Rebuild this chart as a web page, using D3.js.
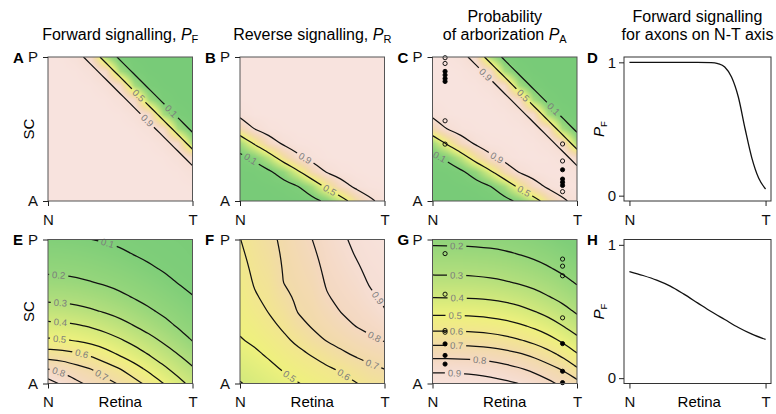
<!DOCTYPE html>
<html>
<head>
<meta charset="utf-8">
<title>forward / reverse signalling</title>
<style>
html, body { margin:0; padding:0; background:#fff; }
svg { display:block; font-family: "Liberation Sans", Arial, Helvetica, sans-serif; }
</style>
</head>
<body>
<svg id="fig" width="776" height="414"></svg>
<script src="https://cdn.jsdelivr.net/npm/d3@7"></script>
<script>

// ---- values ---------------------------------------------------------------
// grids: rows go from P (top) down to A (bottom), columns from N to T, step 0.1

var forwardSteep = [
  [1,0.99,0.95,0.84,0.27,0.05,0.01,0,0,0,0],
  [1,1,0.99,0.95,0.84,0.27,0.05,0.01,0,0,0],
  [1,1,1,0.99,0.95,0.84,0.27,0.05,0.01,0,0],
  [1,1,1,1,0.99,0.95,0.84,0.27,0.05,0.01,0],
  [1,1,1,1,1,0.99,0.95,0.84,0.27,0.05,0.01],
  [1,1,1,1,1,1,0.99,0.95,0.84,0.27,0.05],
  [1,1,1,1,1,1,1,0.99,0.95,0.84,0.27],
  [1,1,1,1,1,1,1,1,0.99,0.95,0.84],
  [1,1,1,1,1,1,1,1,1,0.99,0.95],
  [1,1,1,1,1,1,1,1,1,1,0.99],
  [1,1,1,1,1,1,1,1,1,1,1]
];

var reverseSteep = [
  [1,1,1,1,1,1,1,1,1,1,1],
  [1,1,1,1,1,1,1,1,1,1,1],
  [1,1,1,1,1,1,1,1,1,1,1],
  [0.99,1,1,1,1,1,1,1,1,1,1],
  [0.95,0.99,1,1,1,1,1,1,1,1,1],
  [0.72,0.90,0.97,0.99,1,1,1,1,1,1,1],
  [0.24,0.53,0.80,0.93,0.98,0.99,1,1,1,1,1],
  [0.04,0.13,0.34,0.64,0.86,0.96,0.99,1,1,1,1],
  [0.01,0.02,0.06,0.19,0.44,0.74,0.91,0.97,0.99,1,1],
  [0,0,0.01,0.03,0.09,0.26,0.56,0.81,0.94,0.98,0.99],
  [0,0,0,0,0.01,0.04,0.14,0.36,0.66,0.87,0.96]
];

var arborSteep = [
  [1,0.99,0.95,0.84,0.27,0.05,0.01,0,0,0,0],
  [1,1,0.99,0.95,0.84,0.27,0.05,0.01,0,0,0],
  [1,1,1,0.99,0.95,0.84,0.27,0.05,0.01,0,0],
  [0.99,1,1,1,0.99,0.95,0.84,0.27,0.05,0.01,0],
  [0.95,0.99,1,1,1,0.99,0.95,0.84,0.27,0.05,0.01],
  [0.72,0.90,0.97,0.99,1,1,0.99,0.95,0.84,0.27,0.05],
  [0.24,0.53,0.80,0.93,0.98,0.99,1,0.99,0.95,0.84,0.27],
  [0.04,0.13,0.34,0.64,0.86,0.96,0.99,1,0.99,0.95,0.84],
  [0.01,0.02,0.06,0.19,0.44,0.74,0.91,0.97,0.99,0.99,0.95],
  [0,0,0.01,0.03,0.09,0.26,0.56,0.81,0.94,0.98,0.98],
  [0,0,0,0,0.01,0.04,0.14,0.36,0.66,0.87,0.96]
];

var forwardGraded = [
  [0.114,0.112,0.108,0.100,0.094,0.087,0.078,0.067,0.055,0.048,0.040],
  [0.148,0.146,0.142,0.134,0.124,0.111,0.097,0.086,0.074,0.060,0.047],
  [0.182,0.180,0.176,0.168,0.157,0.144,0.128,0.109,0.093,0.079,0.063],
  [0.224,0.221,0.215,0.203,0.191,0.177,0.161,0.142,0.121,0.098,0.083],
  [0.276,0.274,0.267,0.255,0.239,0.217,0.194,0.175,0.153,0.129,0.103],
  [0.344,0.340,0.329,0.312,0.292,0.271,0.244,0.212,0.185,0.161,0.134],
  [0.425,0.421,0.409,0.390,0.365,0.334,0.299,0.267,0.230,0.192,0.165],
  [0.514,0.507,0.493,0.472,0.445,0.409,0.370,0.328,0.286,0.244,0.197],
  [0.652,0.644,0.620,0.586,0.540,0.491,0.448,0.398,0.350,0.302,0.253],
  [0.800,0.776,0.733,0.700,0.650,0.602,0.538,0.478,0.420,0.365,0.312],
  [0.950,0.880,0.820,0.774,0.733,0.688,0.633,0.571,0.500,0.433,0.370]
];

var reverseGraded = [
  [0.598,0.638,0.677,0.717,0.758,0.800,0.842,0.883,0.920,0.950,0.970],
  [0.585,0.628,0.662,0.711,0.747,0.785,0.831,0.867,0.905,0.936,0.956],
  [0.571,0.617,0.648,0.705,0.736,0.769,0.820,0.851,0.886,0.922,0.941],
  [0.556,0.607,0.633,0.700,0.726,0.754,0.809,0.835,0.865,0.908,0.927],
  [0.541,0.592,0.619,0.673,0.715,0.738,0.794,0.819,0.844,0.886,0.913],
  [0.527,0.566,0.604,0.644,0.704,0.723,0.764,0.803,0.823,0.854,0.896],
  [0.512,0.539,0.577,0.614,0.670,0.708,0.735,0.769,0.802,0.822,0.850],
  [0.495,0.513,0.544,0.581,0.620,0.669,0.705,0.729,0.758,0.785,0.805],
  [0.461,0.484,0.511,0.544,0.576,0.606,0.644,0.682,0.710,0.732,0.753],
  [0.427,0.452,0.478,0.507,0.536,0.562,0.586,0.611,0.647,0.681,0.700],
  [0.395,0.420,0.445,0.470,0.496,0.520,0.545,0.570,0.595,0.630,0.650]
];

var arborGraded = [
  [0.181,0.180,0.180,0.178,0.174,0.168,0.158,0.144,0.125,0.101,0.088],
  [0.226,0.225,0.225,0.222,0.218,0.210,0.198,0.184,0.166,0.142,0.112],
  [0.274,0.273,0.273,0.270,0.265,0.258,0.246,0.229,0.207,0.182,0.153],
  [0.330,0.329,0.329,0.325,0.319,0.308,0.294,0.277,0.255,0.227,0.193],
  [0.397,0.396,0.395,0.392,0.385,0.375,0.358,0.335,0.305,0.275,0.240],
  [0.477,0.476,0.475,0.471,0.463,0.450,0.431,0.403,0.372,0.333,0.288],
  [0.565,0.564,0.563,0.558,0.550,0.535,0.514,0.485,0.449,0.401,0.352],
  [0.663,0.662,0.661,0.656,0.647,0.631,0.607,0.576,0.536,0.484,0.425],
  [0.770,0.769,0.767,0.762,0.752,0.736,0.713,0.682,0.637,0.579,0.510],
  [0.883,0.882,0.879,0.872,0.857,0.837,0.810,0.778,0.738,0.692,0.613],
  [0.950,0.950,0.948,0.943,0.935,0.920,0.899,0.868,0.825,0.777,0.735]
];

// contour levels drawn in each map
var levelsSteep = [0.1, 0.5, 0.9];
var levelsE = [0.1, 0.2, 0.3, 0.4, 0.5, 0.6, 0.7, 0.8, 0.9];
var levelsF = [0.4, 0.5, 0.6, 0.7, 0.8, 0.9];
var levelsG = [0.2, 0.3, 0.4, 0.5, 0.6, 0.7, 0.8, 0.9];

// observed axons: [retina position, SC position, 1 = filled]
var axonsC = [
  [0.087,0.995,0],[0.087,0.955,0],[0.087,0.90,1],[0.087,0.875,1],[0.087,0.85,1],[0.087,0.83,1],
  [0.087,0.557,0],[0.087,0.395,0],
  [0.9,0.396,0],[0.9,0.278,0],[0.9,0.217,1],[0.9,0.152,1],[0.9,0.13,1],[0.9,0.108,1],[0.9,0.065,0]
];
var axonsG = [
  [0.087,0.902,0],[0.087,0.62,0],[0.087,0.368,0],[0.087,0.356,0],[0.087,0.275,1],[0.087,0.195,1],[0.087,0.135,1],
  [0.9,0.864,0],[0.9,0.815,0],[0.9,0.748,0],[0.9,0.456,0],[0.9,0.277,1],[0.9,0.085,1],[0.9,0.006,1]
];

// forward signalling along the N-T axis
var axisPosD = [0,0.1,0.2,0.3,0.4,0.5,0.6,0.65,0.7,0.75,0.8,0.85,0.9,0.95,1];
var forwardD = [1,1,1,1,1,1,0.998,0.99,0.965,0.89,0.74,0.50,0.28,0.13,0.05];
var axisPosH = [0,0.1,0.2,0.3,0.4,0.5,0.6,0.7,0.8,0.9,1];
var forwardH = [0.80,0.77,0.735,0.69,0.63,0.565,0.50,0.44,0.38,0.33,0.29];

// ---- layout --------------------------------------------------------------
var PW = 144.5, PH = 144;
var colX = [48, 240, 432.5];
var rowY = [57, 239.5];
var lineX = 624, lineW = 147;

// where each contour label sits: [retina, SC, level]
var labelAt = {
  A: [[0.616,0.724,0.5],[0.847,0.62,0.1],[0.685,0.5625,0.9]],
  B: [[0.448,0.285,0.9],[0.62,0.076,0.5],[0.08,0.296,0.1]],
  C: [[0.363,0.875,0.9],[0.617,0.724,0.5],[0.834,0.632,0.1],[0.444,0.296,0.9],[0.628,0.053,0.5],[0.053,0.308,0.1]],
  E: [[0.408,0.96,0.1],[0.075,0.74,0.2],[0.086,0.547,0.3],[0.086,0.404,0.4],[0.082,0.307,0.5],[0.224,0.177,0.6],[0.374,0.061,0.7],[0.082,0.092,0.8]],
  F: [[0.336,0.045,0.5],[0.703,0.04,0.6],[0.91,0.126,0.7],[0.922,0.311,0.8],[0.933,0.578,0.9]],
  G: [[0.168,0.954,0.2],[0.168,0.75,0.3],[0.168,0.6,0.4],[0.16,0.47,0.5],[0.168,0.365,0.6],[0.168,0.265,0.7],[0.33,0.165,0.8],[0.15,0.085,0.9]]
};

var colour = d3.scaleLinear()
  .domain([0, 0.1, 0.2, 0.3, 0.4, 0.5, 0.6, 0.7, 0.8, 0.9, 1])
  .range(["#78cb78","#7fce79","#96d67b","#b4df7c","#d3e97c","#eef17d","#f2e690","#f2dba8","#f4d8c0","#f6ded4","#f8e3de"])
  .clamp(true);

var svg = d3.select("#fig");
var FONT = 15;

function styleAxis(g) {
  g.attr("font-family", null).attr("font-size", FONT);
  g.select(".domain").remove();
  g.selectAll(".tick line").attr("stroke", "#222");
  g.selectAll(".tick text").attr("fill", "#111");
}

function heatPanel(key, grid, levels, x0, y0, axons) {
  var rows = grid.length, cols = grid[0].length;
  var sx = d3.scaleLinear().domain([0, 1]).range([x0, x0 + PW]);
  var sy = d3.scaleLinear().domain([0, 1]).range([y0 + PH, y0]);

  // smooth colour field
  var cw = Math.round(PW), ch = Math.round(PH);
  var canvas = document.createElement("canvas");
  canvas.width = cw; canvas.height = ch;
  var ctx = canvas.getContext("2d");
  var img = ctx.createImageData(cw, ch);
  for (var py = 0; py < ch; py++) {
    var r = (py + 0.5) / ch * (rows - 1);
    var r0 = Math.min(Math.floor(r), rows - 2), fr = r - r0;
    for (var px = 0; px < cw; px++) {
      var c = (px + 0.5) / cw * (cols - 1);
      var c0 = Math.min(Math.floor(c), cols - 2), fc = c - c0;
      var val = (1 - fr) * ((1 - fc) * grid[r0][c0] + fc * grid[r0][c0 + 1]) +
                fr * ((1 - fc) * grid[r0 + 1][c0] + fc * grid[r0 + 1][c0 + 1]);
      var col = d3.rgb(colour(val));
      var k = (py * cw + px) * 4;
      img.data[k] = col.r; img.data[k + 1] = col.g; img.data[k + 2] = col.b; img.data[k + 3] = 255;
    }
  }
  ctx.putImageData(img, 0, 0);

  var g = svg.append("g");
  g.append("image").attr("href", canvas.toDataURL())
    .attr("x", x0).attr("y", y0).attr("width", PW).attr("height", PH)
    .attr("preserveAspectRatio", "none");

  var clip = svg.append("clipPath").attr("id", "clip" + key);
  clip.append("rect").attr("x", x0).attr("y", y0).attr("width", PW).attr("height", PH);

  var mask = svg.append("mask").attr("id", "mask" + key).attr("maskUnits", "userSpaceOnUse")
    .attr("x", x0 - 5).attr("y", y0 - 5).attr("width", PW + 10).attr("height", PH + 10);
  mask.append("rect").attr("x", x0 - 5).attr("y", y0 - 5).attr("width", PW + 10).attr("height", PH + 10).attr("fill", "white");

  // contour lines from the grid
  var cx = d3.scaleLinear().domain([0.5, cols - 0.5]).range([x0, x0 + PW]);
  var cy = d3.scaleLinear().domain([0.5, rows - 0.5]).range([y0, y0 + PH]);
  var contours = d3.contours().size([cols, rows]).thresholds(levels)(grid.flat());
  var lineGen = d3.line().x(function(q) { return cx(q[0]); }).y(function(q) { return cy(q[1]); }).curve(d3.curveBasis);
  var inside = function(q) { return q[0] > 0 && q[0] < cols && q[1] > 0 && q[1] < rows; };

  var lines = g.append("g").attr("clip-path", "url(#clip" + key + ")")
    .append("g").attr("mask", "url(#mask" + key + ")");
  var drawn = [];
  contours.forEach(function(ct) {
    ct.coordinates.forEach(function(poly) {
      poly.forEach(function(ring) {
        var pts = ring.slice();
        var a = pts[0], b = pts[pts.length - 1];
        if (a[0] === b[0] && a[1] === b[1]) pts.pop();
        var start = pts.findIndex(function(q) { return !inside(q); });
        if (start < 0) return;
        pts = pts.slice(start).concat(pts.slice(0, start));
        var cur = [];
        pts.concat([[-1, -1]]).forEach(function(q) {
          if (inside(q)) { cur.push(q); return; }
          if (cur.length > 1) {
            var path = lines.append("path").attr("d", lineGen(cur))
              .attr("fill", "none").attr("stroke", "#111").attr("stroke-width", 1.25);
            drawn.push({ level: ct.value, node: path.node() });
          }
          cur = [];
        });
      });
    });
  });

  // labels with a gap cut out of the line
  var labs = g.append("g").attr("font-size", 9.5).attr("fill", "#7c7c7c");
  (labelAt[key] || []).forEach(function(spec) {
    var tx = sx(spec[0]), ty = sy(spec[1]), best = null;
    drawn.forEach(function(d) {
      if (Math.abs(d.level - spec[2]) > 1e-6) return;
      var len = d.node.getTotalLength();
      for (var s = 0; s <= len; s += 1) {
        var p = d.node.getPointAtLength(s);
        var dist = (p.x - tx) * (p.x - tx) + (p.y - ty) * (p.y - ty);
        if (!best || dist < best.dist) best = { dist: dist, s: s, len: len, node: d.node, p: p };
      }
    });
    if (!best) return;
    var pa = best.node.getPointAtLength(Math.max(0, best.s - 5));
    var pb = best.node.getPointAtLength(Math.min(best.len, best.s + 5));
    var ang = Math.atan2(pb.y - pa.y, pb.x - pa.x) * 180 / Math.PI;
    if (ang > 90) ang -= 180;
    if (ang < -90) ang += 180;
    var tr = "translate(" + best.p.x + "," + best.p.y + ") rotate(" + ang + ")";
    var t = labs.append("text").attr("transform", tr).attr("text-anchor", "middle")
      .attr("dy", "0.35em").text(spec[2].toFixed(1));
    var w = t.node().getComputedTextLength() + 6;
    mask.append("rect").attr("transform", tr).attr("x", -w / 2).attr("y", -5)
      .attr("width", w).attr("height", 10).attr("fill", "black");
  });

  // observed axons
  if (axons) {
    g.append("g").selectAll("circle").data(axons).join("circle")
      .attr("cx", function(d) { return sx(d[0]); })
      .attr("cy", function(d) { return sy(d[1]); })
      .attr("r", 2.1)
      .attr("fill", function(d) { return d[2] ? "#000" : "none"; })
      .attr("stroke", "#000").attr("stroke-width", 0.9);
  }

  g.append("rect").attr("x", x0).attr("y", y0).attr("width", PW).attr("height", PH)
    .attr("fill", "none").attr("stroke", "#555").attr("stroke-width", 1);

  svg.append("g").attr("transform", "translate(" + x0 + ",0)")
    .call(d3.axisLeft(sy).tickValues([0, 1]).tickSize(5).tickPadding(5)
      .tickFormat(function(d) { return d ? "P" : "A"; }))
    .call(styleAxis);
  svg.append("g").attr("transform", "translate(0," + (y0 + PH) + ")")
    .call(d3.axisBottom(sx).tickValues([0, 1]).tickSize(5).tickPadding(8)
      .tickFormat(function(d) { return d ? "T" : "N"; }))
    .call(styleAxis);

  svg.append("text").attr("x", x0 - 35).attr("y", y0 + 5.5)
    .attr("font-weight", "bold").attr("font-size", FONT).text(key);
}

function linePanel(key, pos, vals, y0) {
  var sx = d3.scaleLinear().domain([-0.04, 1.04]).range([lineX, lineX + lineW]);
  var sy = d3.scaleLinear().domain([-0.04, 1.04]).range([y0 + PH, y0]);
  svg.append("path").datum(d3.zip(pos, vals))
    .attr("d", d3.line().x(function(d) { return sx(d[0]); }).y(function(d) { return sy(d[1]); }).curve(d3.curveMonotoneX))
    .attr("fill", "none").attr("stroke", "#111").attr("stroke-width", 1.3);
  svg.append("rect").attr("x", lineX).attr("y", y0).attr("width", lineW).attr("height", PH)
    .attr("fill", "none").attr("stroke", "#333").attr("stroke-width", 1);
  svg.append("g").attr("transform", "translate(" + lineX + ",0)")
    .call(d3.axisLeft(sy).tickValues([0, 1]).tickSize(5).tickPadding(3).tickFormat(d3.format("d")))
    .call(styleAxis);
  svg.append("g").attr("transform", "translate(0," + (y0 + PH) + ")")
    .call(d3.axisBottom(sx).tickValues([0, 1]).tickSize(5).tickPadding(8)
      .tickFormat(function(d) { return d ? "T" : "N"; }))
    .call(styleAxis);

  var yl = svg.append("text").attr("transform", "translate(604," + (y0 + PH / 2) + ") rotate(-90)")
    .attr("text-anchor", "middle").attr("font-size", FONT);
  yl.append("tspan").attr("font-style", "italic").text("P");
  yl.append("tspan").attr("font-size", 9.5).attr("dy", 3).text("F");

  svg.append("text").attr("x", lineX - 37).attr("y", y0 + 5.5)
    .attr("font-weight", "bold").attr("font-size", FONT).text(key);
}

heatPanel("A", forwardSteep, levelsSteep, colX[0], rowY[0]);
heatPanel("B", reverseSteep, levelsSteep, colX[1], rowY[0]);
heatPanel("C", arborSteep, levelsSteep, colX[2], rowY[0], axonsC);
linePanel("D", axisPosD, forwardD, rowY[0]);
heatPanel("E", forwardGraded, levelsE, colX[0], rowY[1]);
heatPanel("F", reverseGraded, levelsF, colX[1], rowY[1]);
heatPanel("G", arborGraded, levelsG, colX[2], rowY[1], axonsG);
linePanel("H", axisPosH, forwardH, rowY[1]);

// side labels
[rowY[0], rowY[1]].forEach(function(y0) {
  svg.append("text").attr("transform", "translate(29," + (y0 + PH / 2) + ") rotate(-90)")
    .attr("text-anchor", "middle").attr("dy", "0.35em").attr("font-size", FONT).text("SC");
});
colX.concat([lineX + 3]).forEach(function(x0) {
  svg.append("text").attr("x", x0 + PW / 2).attr("y", rowY[1] + PH + 23)
    .attr("text-anchor", "middle").attr("font-size", FONT).text("Retina");
});

// titles
function title(cx, lines, sub) {
  lines.forEach(function(line, i) {
    var t = svg.append("text").attr("x", cx).attr("y", 40 - (lines.length - 1 - i) * 18)
      .attr("text-anchor", "middle").attr("font-size", 16);
    t.append("tspan").text(line);
    if (sub && i === lines.length - 1) {
      t.append("tspan").attr("font-style", "italic").text("P");
      t.append("tspan").attr("font-size", 11).attr("dy", 3).text(sub);
    }
  });
}
title(colX[0] + PW / 2, ["Forward signalling, "], "F");
title(colX[1] + PW / 2, ["Reverse signalling, "], "R");
title(colX[2] + PW / 2, ["Probability", "of arborization "], "A");
title(lineX + lineW / 2, ["Forward signalling", "for axons on N-T axis"]);

</script>
</body>
</html>
